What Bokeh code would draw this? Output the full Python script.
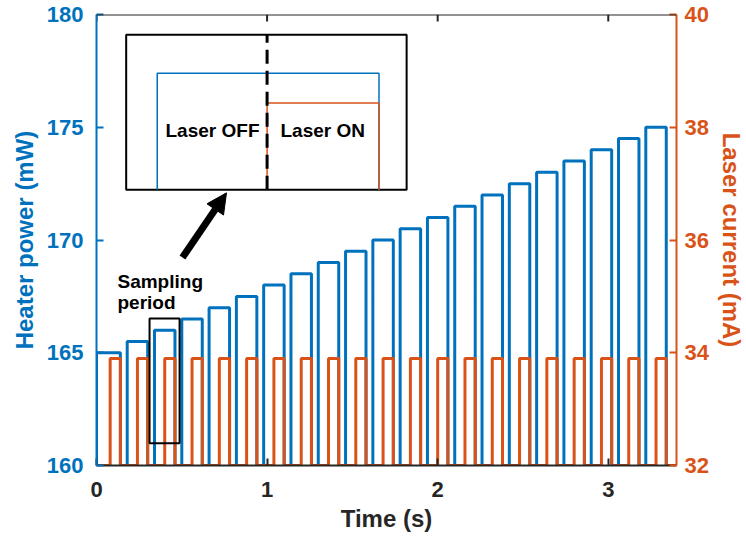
from bokeh.plotting import figure
from bokeh.models import Range1d, LinearAxis, FixedTicker, Arrow, NormalHead, Span
from bokeh.embed import file_html
from bokeh.resources import INLINE
from bokeh.core.properties import value

BLUE = "#0072BD"
ORANGE = "#D95319"
DARK = "#262626"
FONT = "Liberation Sans"

# ---- data ----
heater_on = [0.00, 0.18, 0.34, 0.50, 0.66, 0.82, 0.98, 1.14, 1.30, 1.46, 1.62,
             1.78, 1.94, 2.10, 2.26, 2.42, 2.58, 2.74, 2.90, 3.06, 3.22]
heater_off = [0.14, 0.30, 0.46, 0.62, 0.78, 0.94, 1.10, 1.26, 1.42, 1.58, 1.74,
              1.90, 2.06, 2.22, 2.38, 2.54, 2.70, 2.86, 3.02, 3.18, 3.34]
heater_power = [165.0, 165.5, 166.0, 166.5, 167.0, 167.5, 168.0, 168.5, 169.0, 169.5, 170.0,
                170.5, 171.0, 171.5, 172.0, 172.5, 173.0, 173.5, 174.0, 174.5, 175.0]
laser_on = [0.08, 0.24, 0.40, 0.56, 0.72, 0.88, 1.04, 1.20, 1.36, 1.52, 1.68,
            1.84, 2.00, 2.16, 2.32, 2.48, 2.64, 2.80, 2.96, 3.12, 3.28]
laser_off = [0.14, 0.30, 0.46, 0.62, 0.78, 0.94, 1.10, 1.26, 1.42, 1.58, 1.74,
             1.90, 2.06, 2.22, 2.38, 2.54, 2.70, 2.86, 3.02, 3.18, 3.34]
laser_current = [33.9] * 21
heater_base = 160.0
laser_base = 32.0
t_end = 3.4

x_ticks = [0, 1, 2, 3]
heater_ticks = [160, 165, 170, 175, 180]
laser_ticks = [32, 34, 36, 38, 40]

# inset schematic (time, mW)
inset_box = dict(left=0.174, right=1.818, bottom=172.23, top=179.1)
inset_heater = dict(x0=0.356, x1=1.656, level=177.4)
inset_laser = dict(x0=1.0, x1=1.656, level=176.08)
inset_labels = ["Laser OFF", "Laser ON"]
inset_label_x = [0.680, 1.326]
inset_label_y = [174.85, 174.85]
sample_box = dict(left=0.311, right=0.487, bottom=160.99, top=166.52)
sample_text = ["Sampling", "period"]
sample_text_x = [0.123, 0.123]
sample_text_y = [168.16, 167.23]
arrow_start = (0.504, 169.22)
arrow_end = (0.762, 172.09)

# ---- build step waveforms ----
hx, hy = [0.0], [heater_base]
for on, off, lev in zip(heater_on, heater_off, heater_power):
    hx += [on, on, off, off]
    hy += [heater_base, lev, lev, heater_base]
hx.append(t_end); hy.append(heater_base)

lx, ly = [0.0], [laser_base]
for on, off, lev in zip(laser_on, laser_off, laser_current):
    lx += [on, on, off, off]
    ly += [laser_base, lev, lev, laser_base]
lx.append(t_end); ly.append(laser_base)

p = figure(frame_width=580, frame_height=451, output_backend="svg", toolbar_location=None,
           x_range=Range1d(0, t_end), y_range=Range1d(160, 180),
           x_axis_location=None, y_axis_location=None,
           min_border_left=96, min_border_right=40, min_border_top=14, min_border_bottom=40)
p.extra_y_ranges = {"laser": Range1d(32, 40)}
p.grid.visible = False
p.outline_line_color = None
p.background_fill_color = "white"
p.border_fill_color = "white"

def style_axis(ax, color, label_size="22px"):
    ax.axis_line_color = color
    ax.axis_line_width = 2
    ax.major_tick_line_color = color
    ax.major_tick_line_width = 2
    ax.major_tick_in = 7
    ax.major_tick_out = 0
    ax.minor_tick_line_color = None
    ax.major_label_text_color = color
    ax.major_label_text_font = FONT
    ax.major_label_text_font_style = "bold"
    ax.major_label_text_font_size = label_size
    ax.axis_label_text_color = color
    ax.axis_label_text_font = FONT
    ax.axis_label_text_font_style = "bold"
    ax.axis_label_text_font_size = "24px"

left = LinearAxis(ticker=FixedTicker(ticks=heater_ticks), axis_label="Heater power (mW)")
style_axis(left, BLUE)
left.major_label_standoff = 13
left.axis_label_standoff = 6
p.add_layout(left, "left")

right = LinearAxis(y_range_name="laser", ticker=FixedTicker(ticks=laser_ticks),
                   axis_label="Laser current (mA)")
style_axis(right, ORANGE)
right.major_label_standoff = 8
right.axis_label_standoff = 6
p.add_layout(right, "right")

bottom = LinearAxis(ticker=FixedTicker(ticks=x_ticks), axis_label="Time (s)")
style_axis(bottom, DARK)
bottom.major_label_standoff = 16
bottom.axis_label_standoff = 5
p.add_layout(bottom, "below")

# top box edge with inward ticks
p.add_layout(Span(location=180, dimension="width", line_color=DARK, line_width=2))
p.segment(x0=x_ticks, x1=x_ticks, y0=[180] * len(x_ticks), y1=[179.69] * len(x_ticks),
          line_color=DARK, line_width=2)

# waveforms
p.line(hx, hy, line_color=BLUE, line_width=3)
p.line(lx, ly, line_color=ORANGE, line_width=3, y_range_name="laser")

# sampling period box
p.quad(left=[sample_box["left"]], right=[sample_box["right"]],
       bottom=[sample_box["bottom"]], top=[sample_box["top"]],
       fill_color=None, line_color="black", line_width=2)
p.text(x=sample_text_x, y=sample_text_y, text=sample_text,
       text_font=value(FONT), text_font_style="bold", text_font_size="19px",
       text_align="left", text_baseline="middle", text_color="black")

# arrow
p.add_layout(Arrow(x_start=arrow_start[0], y_start=arrow_start[1],
                   x_end=arrow_end[0], y_end=arrow_end[1],
                   line_width=7, line_color="black",
                   end=NormalHead(size=20, fill_color="black", line_color="black", line_width=1)))

# inset
p.quad(left=[inset_box["left"]], right=[inset_box["right"]],
       bottom=[inset_box["bottom"]], top=[inset_box["top"]],
       fill_color="white", line_color="black", line_width=2)
b = inset_box["bottom"]
p.line([inset_heater["x0"], inset_heater["x0"], inset_heater["x1"], inset_heater["x1"]],
       [b, inset_heater["level"], inset_heater["level"], b], line_color=BLUE, line_width=1.5)
p.line([inset_laser["x0"], inset_laser["x0"], inset_laser["x1"], inset_laser["x1"]],
       [b, inset_laser["level"], inset_laser["level"], b], line_color=ORANGE, line_width=1.5)
p.line([inset_laser["x0"], inset_laser["x0"]], [b, inset_box["top"]],
       line_color="black", line_width=3, line_dash="14 7")
p.text(x=inset_label_x, y=inset_label_y, text=inset_labels,
       text_font=value(FONT), text_font_style="bold", text_font_size="19px",
       text_align="center", text_baseline="middle", text_color="black")

open("out.html", "w").write(file_html(p, INLINE))
